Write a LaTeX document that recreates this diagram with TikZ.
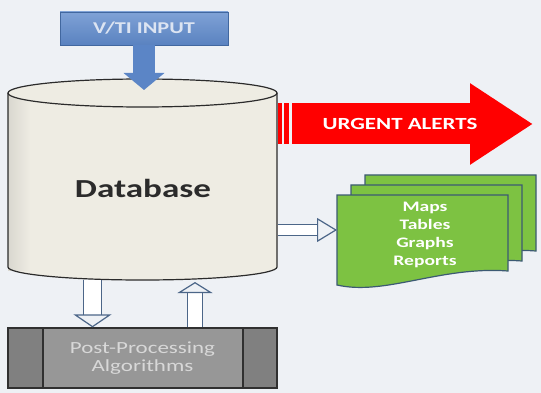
\documentclass[tikz,border=0pt]{standalone}
\usepackage{fontspec}
\setmainfont{Carlito}[FakeStretch=1.35]
\usetikzlibrary{arrows.meta}
\definecolor{bgcol}{HTML}{EEF1F5}
\definecolor{intop}{HTML}{7FA2D6}
\definecolor{inbot}{HTML}{5A82C0}
\definecolor{inborder}{HTML}{41679F}
\definecolor{intext}{HTML}{DCE4F2}
\definecolor{inblue}{HTML}{5B85C6}
\definecolor{dbfill}{HTML}{EEECE3}
\definecolor{dbshade}{HTML}{D9D7CF}
\definecolor{dbborder}{HTML}{2B2B2B}
\definecolor{alertred}{HTML}{FF0000}
\definecolor{docgreen}{HTML}{7DC242}
\definecolor{docborder}{HTML}{3C5A73}
\definecolor{arrowborder}{HTML}{4C6688}
\definecolor{ppside}{HTML}{808080}
\definecolor{ppmid}{HTML}{979797}
\definecolor{ppborder}{HTML}{303030}
\definecolor{pptext}{HTML}{D8D8D8}
\tikzset{
  sheet/.style={fill=docgreen, draw=docborder, line width=1.2pt},
  hollow/.style={draw=arrowborder, line width=1.2pt, double=white, double distance=#1},
  boldtext/.style={font=\bfseries\fontsize{#1}{#1}\selectfont, inner sep=0pt}
}

\begin{document}
\begin{tikzpicture}[x=1pt,y=-1pt]
    % fond
    \fill[bgcol] (0,0) rectangle (541,393);
    \useasboundingbox (0,0) rectangle (541,393);
    % base de données
    \fill[dbfill] (8,93) -- (8,267)
        arc[start angle=180, end angle=0, x radius=134.5, y radius=13] -- (277,93) -- cycle;
    \fill[left color=dbshade, right color=dbfill] (8,93) rectangle (30,270);
    \draw[line width=1.2pt, draw=dbborder] (8,93) -- (8,267)
        arc[start angle=180, end angle=0, x radius=134.5, y radius=13] -- (277,93);
    \draw[line width=1.2pt, draw=dbborder, fill=dbfill] (142.5,93) ellipse[x radius=134.5, y radius=14];
    \node[boldtext=26, text=dbborder] (db) at (143,188) {Database};
    \coordinate (db-in) at (144,90);
    \coordinate (db-alert) at (292,124);
    \coordinate (db-east) at (278,230);
    \coordinate (db-down) at (92.5,280);
    \coordinate (db-up) at (195,282);
    % entrée
    \node[draw=inborder, top color=intop, bottom color=inbot, minimum width=168pt,
          minimum height=33pt, text=intext, boldtext=16.5] (input) at (144,28.5) {V/TI INPUT};
    \draw[inblue, line width=22pt, -{Triangle[length=17pt, width=40pt]}] (input.south) -- (db-in);
    % alertes
    \fill[alertred] (278,103.5) rectangle (282,144.5);
    \fill[alertred] (284,103.5) rectangle (289,144.5);
    \coordinate (alert-end) at (533,124);
    \draw[alertred, line width=41pt, -{Triangle[length=63pt, width=77pt]}] (db-alert) -- (alert-end);
    \node[boldtext=17, text=white] (alerts) at (400,124) {URGENT ALERTS};
    % documents
    \foreach \d in {2,1,0}{
      \draw[sheet, shift={(\d*14,-\d*10)}] (337,195) -- (508,195) -- (508,271)
          .. controls (440,266) and (385,296) .. (337,285) -- cycle;
    }
    \node[text=white, align=center, font=\bfseries\fontsize{14.5}{18}\selectfont] (docs) at (425,235)
        {Maps\\Tables\\Graphs\\Reports};
    \coordinate (docs-west) at (337,230);
    \draw[hollow=9.6pt, -{Triangle[open, length=20pt, width=24pt]}] (db-east) -- (docs-west);
    % algorithmes
    \node[draw=ppborder, fill=ppside, line width=1.2pt, minimum width=269pt, minimum height=60pt,
          text=pptext, align=center, font=\fontsize{17}{18}\selectfont,
          path picture={
            \fill[ppmid] ([xshift=35pt]path picture bounding box.north west)
                rectangle ([xshift=-34pt]path picture bounding box.south east);
            \draw[ppborder, line width=1.2pt] ([xshift=35pt]path picture bounding box.north west)
                -- ([xshift=35pt]path picture bounding box.south west);
            \draw[ppborder, line width=1.2pt] ([xshift=-34pt]path picture bounding box.north east)
                -- ([xshift=-34pt]path picture bounding box.south east);
          }] (pp) at (142.5,358) {Post-Processing\\Algorithms};
    \draw[hollow=16.6pt, -{Triangle[open, length=13pt, width=38pt]}] (db-down) -- (pp.north -| db-down);
    \draw[hollow=13.6pt, -{Triangle[open, length=11pt, width=35pt]}] (pp.north -| db-up) -- (db-up);
\end{tikzpicture}
\end{document}
